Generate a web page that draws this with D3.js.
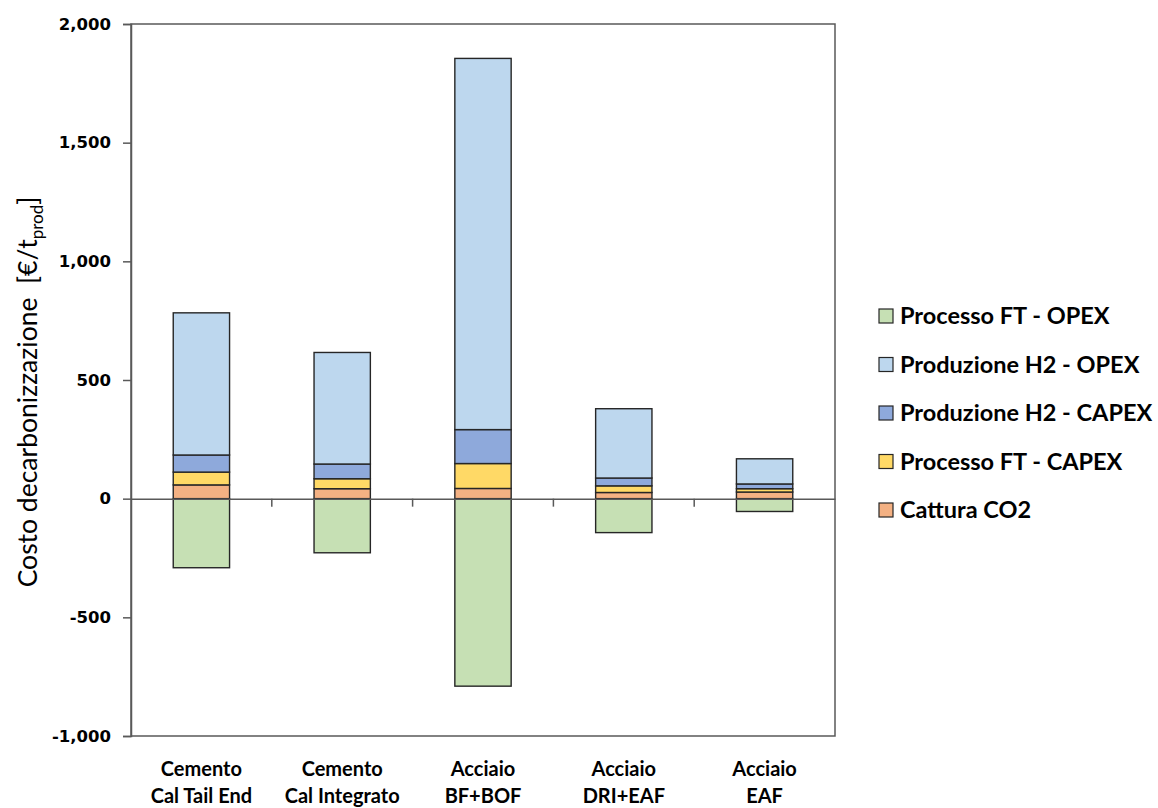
<!DOCTYPE html>
<html>
<head>
<meta charset="utf-8">
<script src="https://cdn.jsdelivr.net/npm/d3@7"></script>
<style>
  html, body { margin: 0; padding: 0; background: #fff; }
  svg { display: block; }
</style>
</head>
<body>
<svg id="chart" width="1158" height="808"></svg>
<script>
// Categories (two-line labels)
const categories = [
  ["Cemento", "Cal Tail End"],
  ["Cemento", "Cal Integrato"],
  ["Acciaio", "BF+BOF"],
  ["Acciaio", "DRI+EAF"],
  ["Acciaio", "EAF"]
];

// Cost components, €/t of product
const catturaCO2        = [58, 42, 43, 26, 28];
const processoFTCapex   = [54, 42, 105, 28, 14];
const produzioneH2Capex = [72, 62, 143, 33, 20];
const produzioneH2Opex  = [599, 470, 1564, 292, 106];
const processoFTOpex    = [-291, -228, -790, -143, -54];

const yTicks = [-1000, -500, 0, 500, 1000, 1500, 2000];

// Stack order bottom-up
const seriesDefs = [
  { key: "Cattura CO2",            values: catturaCO2,        color: "#F4B183" },
  { key: "Processo FT - CAPEX",    values: processoFTCapex,   color: "#FFD966" },
  { key: "Produzione H2 - CAPEX",  values: produzioneH2Capex, color: "#8EA9DB" },
  { key: "Produzione H2 - OPEX",   values: produzioneH2Opex,  color: "#BDD7EE" },
  { key: "Processo FT - OPEX",     values: processoFTOpex,    color: "#C6E0B4" }
];
// Legend order, top-down
const legendOrder = [
  "Processo FT - OPEX",
  "Produzione H2 - OPEX",
  "Produzione H2 - CAPEX",
  "Processo FT - CAPEX",
  "Cattura CO2"
];

const rows = categories.map((c, i) => {
  const r = { idx: i };
  seriesDefs.forEach(s => { r[s.key] = s.values[i]; });
  return r;
});

const svg = d3.select("#chart");
const plot = { left: 131, right: 835, top: 24, bottom: 736 };

const x = d3.scaleBand()
  .domain(d3.range(categories.length))
  .range([plot.left, plot.right])
  .padding(0);

const y = d3.scaleLinear()
  .domain([-1000, 2000])
  .range([plot.bottom, plot.top]);

const stack = d3.stack()
  .keys(seriesDefs.map(s => s.key))
  .offset(d3.stackOffsetDiverging);
const stacked = stack(rows);

const barW = x.bandwidth() * 0.4;
const axisColor = "#595959";

// Plot frame
svg.append("rect")
  .attr("x", plot.left).attr("y", plot.top)
  .attr("width", plot.right - plot.left)
  .attr("height", plot.bottom - plot.top)
  .attr("fill", "none")
  .attr("stroke", axisColor)
  .attr("stroke-width", 1.5);

// Bars
const colorOf = Object.fromEntries(seriesDefs.map(s => [s.key, s.color]));
const layers = svg.append("g").selectAll("g")
  .data(stacked)
  .join("g")
  .attr("fill", d => colorOf[d.key]);

layers.selectAll("rect")
  .data(d => d)
  .join("rect")
  .attr("x", d => x(d.data.idx) + (x.bandwidth() - barW) / 2)
  .attr("y", d => y(Math.max(d[0], d[1])))
  .attr("width", barW)
  .attr("height", d => Math.abs(y(d[0]) - y(d[1])))
  .attr("stroke", "#262626")
  .attr("stroke-width", 1.4);

// Y axis (hyphen-minus for negatives, thousands separator)
const fmt = d3.format(",");
const yAxis = d3.axisLeft(y)
  .tickValues(yTicks)
  .tickSize(8)
  .tickFormat(d => fmt(d).replace("\u2212", "-"));
const gy = svg.append("g")
  .attr("transform", `translate(${plot.left},0)`)
  .call(yAxis);
gy.select(".domain").attr("stroke", axisColor).attr("stroke-width", 1.5);
gy.selectAll(".tick line").attr("stroke", axisColor).attr("stroke-width", 1.5);
gy.selectAll(".tick text")
  .attr("x", -20)
  .attr("fill", "#000")
  .style("font-family", "'DejaVu Sans', sans-serif")
  .style("font-weight", "bold")
  .style("font-size", "16.5px");

// Category axis at zero
const xAxis = d3.axisBottom(x).tickSize(0).tickFormat("");
const gx = svg.append("g")
  .attr("transform", `translate(0,${y(0)})`)
  .call(xAxis);
gx.select(".domain").attr("stroke", axisColor).attr("stroke-width", 1.5);
// Boundary ticks between categories
gx.selectAll(".sep")
  .data(d3.range(1, categories.length))
  .join("line")
  .attr("class", "sep")
  .attr("x1", i => x(i)).attr("x2", i => x(i))
  .attr("y1", 0).attr("y2", 8)
  .attr("stroke", axisColor)
  .attr("stroke-width", 1.5);

// Category labels under the plot
const labels = svg.append("g")
  .style("font-family", "Lato, 'Open Sans', sans-serif")
  .style("font-weight", "bold")
  .style("font-size", "20px")
  .attr("text-anchor", "middle");
categories.forEach((c, i) => {
  const cx = x(i) + x.bandwidth() / 2;
  labels.append("text").attr("x", cx).attr("y", 776).text(c[0]);
  labels.append("text").attr("x", cx).attr("y", 803).text(c[1]);
});

// Y-axis title
const title = svg.append("text")
  .attr("transform", `translate(37,${(plot.top + plot.bottom) / 2 + 12}) rotate(-90)`)
  .attr("text-anchor", "middle")
  .style("white-space", "pre")
  .style("font-family", "Lato, 'Open Sans', sans-serif")
  .style("font-size", "26.5px")
  .attr("fill", "#000");
title.append("tspan").text("Costo decarbonizzazione  [€/t");
title.append("tspan").attr("dy", 6).style("font-size", "17px").text("prod");
title.append("tspan").attr("dy", -6).text("]");

// Legend
const legend = svg.append("g")
  .style("font-family", "Lato, 'Open Sans', sans-serif")
  .style("font-weight", "bold")
  .style("font-size", "23.5px");
legendOrder.forEach((k, i) => {
  const ly = 316 + i * 48.5;
  legend.append("rect")
    .attr("x", 879).attr("y", ly - 7)
    .attr("width", 14).attr("height", 14)
    .attr("fill", colorOf[k])
    .attr("stroke", "#262626")
    .attr("stroke-width", 1.2);
  legend.append("text")
    .attr("x", 900).attr("y", ly + 8)
    .attr("fill", "#000")
    .text(k);
});
</script>
</body>
</html>
